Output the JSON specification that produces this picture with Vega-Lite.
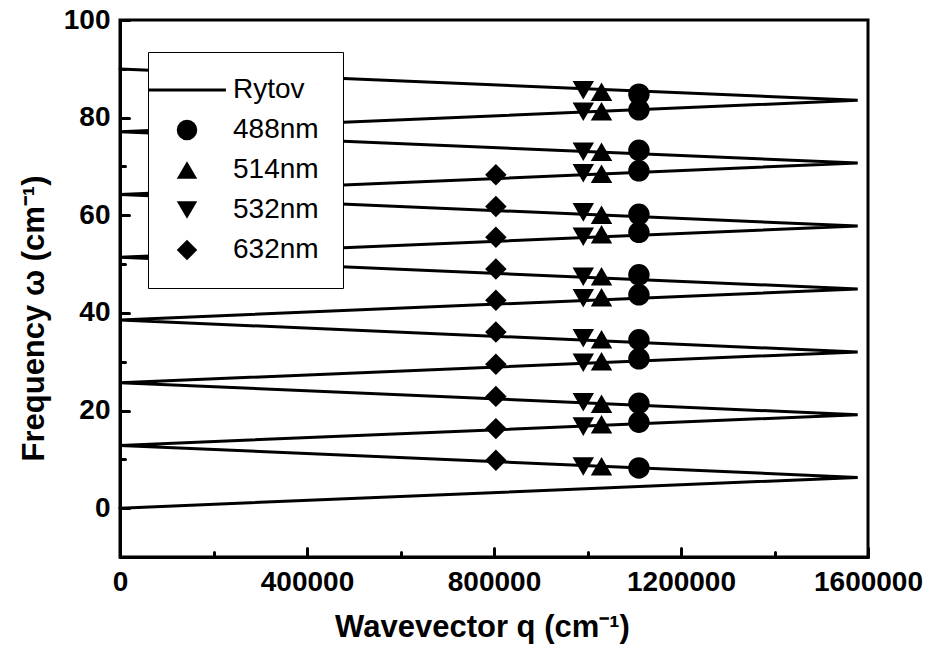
{
  "$schema": "https://vega.github.io/schema/vega-lite/v6.json",
  "width": 748,
  "height": 537,
  "autosize": "none",
  "padding": {"left": 120, "top": 20, "right": 61, "bottom": 95},
  "background": "white",
  "config": {
    "view": {"stroke": "black", "strokeWidth": 3},
    "font": "Liberation Sans",
    "axis": {"grid": false, "domainColor": "black", "domainWidth": 3, "tickColor": "black", "tickWidth": 3, "tickCap": "round",
      "labelFont": "Liberation Sans", "labelFontWeight": "bold", "labelFontSize": 28, "labelColor": "black",
      "titleFont": "Liberation Sans", "titleFontWeight": "bold", "titleFontSize": 31, "titleColor": "black",
      "labelOverlap": false, "labelBound": false, "labelFlush": false}
  },
  "layer": [
    {
      "data": {"values": [
        {"q": 0, "w": 0, "i": 0, "series": "Rytov"},
        {"q": 1578000, "w": 6.3, "i": 1, "series": "Rytov"},
        {"q": 0, "w": 12.85, "i": 2, "series": "Rytov"},
        {"q": 1578000, "w": 19.15, "i": 3, "series": "Rytov"},
        {"q": 0, "w": 25.7, "i": 4, "series": "Rytov"},
        {"q": 1578000, "w": 32.0, "i": 5, "series": "Rytov"},
        {"q": 0, "w": 38.55, "i": 6, "series": "Rytov"},
        {"q": 1578000, "w": 44.9, "i": 7, "series": "Rytov"},
        {"q": 0, "w": 51.4, "i": 8, "series": "Rytov"},
        {"q": 1578000, "w": 57.8, "i": 9, "series": "Rytov"},
        {"q": 0, "w": 64.25, "i": 10, "series": "Rytov"},
        {"q": 1578000, "w": 70.7, "i": 11, "series": "Rytov"},
        {"q": 0, "w": 77.1, "i": 12, "series": "Rytov"},
        {"q": 1578000, "w": 83.55, "i": 13, "series": "Rytov"},
        {"q": 0, "w": 89.95, "i": 14, "series": "Rytov"}
      ]},
      "mark": {"type": "line", "color": "black", "strokeWidth": 3, "strokeCap": "round"},
      "encoding": {
        "x": {"field": "q", "type": "quantitative", "scale": {"domain": [0, 1600000], "nice": false, "zero": false},
          "axis": {"title": "Wavevector q (cm⁻¹)", "values": [0, 200000, 400000, 600000, 800000, 1000000, 1200000, 1400000, 1600000],
            "labelExpr": "datum.value % 400000 === 0 ? format(datum.value, 'd') : ''",
            "tickSize": {"condition": {"test": "datum.value % 400000 === 0", "value": -9}, "value": -5},
            "labelPadding": 20, "titlePadding": 12, "titleX": 362}},
        "y": {"field": "w", "type": "quantitative", "scale": {"domain": [-10, 100], "nice": false, "zero": false},
          "axis": {"title": "Frequency ω (cm⁻¹)", "values": [-10, 0, 10, 20, 30, 40, 50, 60, 70, 80, 90, 100],
            "labelExpr": "datum.value >= 0 && datum.value % 20 === 0 ? format(datum.value, 'd') : ''",
            "tickSize": {"condition": {"test": "datum.value % 20 === 0", "value": -9}, "value": -5},
            "labelPadding": 19, "titlePadding": 13, "titleY": 298}},
        "order": {"field": "i", "type": "quantitative"}
      }
    },
    {
      "data": {"values": [
        {"q": 1110000, "w": 8.25, "series": "488nm"},
        {"q": 1110000, "w": 17.6, "series": "488nm"},
        {"q": 1110000, "w": 21.5, "series": "488nm"},
        {"q": 1110000, "w": 30.6, "series": "488nm"},
        {"q": 1110000, "w": 34.5, "series": "488nm"},
        {"q": 1110000, "w": 43.7, "series": "488nm"},
        {"q": 1110000, "w": 47.8, "series": "488nm"},
        {"q": 1110000, "w": 56.5, "series": "488nm"},
        {"q": 1110000, "w": 60.2, "series": "488nm"},
        {"q": 1110000, "w": 69.1, "series": "488nm"},
        {"q": 1110000, "w": 73.3, "series": "488nm"},
        {"q": 1110000, "w": 81.6, "series": "488nm"},
        {"q": 1110000, "w": 84.8, "series": "488nm"},
        {"q": 1030000, "w": 8.6, "series": "514nm"},
        {"q": 1030000, "w": 17.2, "series": "514nm"},
        {"q": 1030000, "w": 21.4, "series": "514nm"},
        {"q": 1030000, "w": 30.1, "series": "514nm"},
        {"q": 1030000, "w": 34.6, "series": "514nm"},
        {"q": 1030000, "w": 43.2, "series": "514nm"},
        {"q": 1030000, "w": 47.5, "series": "514nm"},
        {"q": 1030000, "w": 56.1, "series": "514nm"},
        {"q": 1030000, "w": 60.1, "series": "514nm"},
        {"q": 1030000, "w": 68.5, "series": "514nm"},
        {"q": 1030000, "w": 73.0, "series": "514nm"},
        {"q": 1030000, "w": 81.3, "series": "514nm"},
        {"q": 1030000, "w": 85.3, "series": "514nm"},
        {"q": 991000, "w": 8.55, "series": "532nm"},
        {"q": 991000, "w": 16.7, "series": "532nm"},
        {"q": 991000, "w": 21.7, "series": "532nm"},
        {"q": 991000, "w": 29.8, "series": "532nm"},
        {"q": 991000, "w": 34.8, "series": "532nm"},
        {"q": 991000, "w": 43.0, "series": "532nm"},
        {"q": 991000, "w": 47.4, "series": "532nm"},
        {"q": 991000, "w": 55.6, "series": "532nm"},
        {"q": 991000, "w": 60.6, "series": "532nm"},
        {"q": 991000, "w": 68.6, "series": "532nm"},
        {"q": 991000, "w": 73.0, "series": "532nm"},
        {"q": 991000, "w": 81.2, "series": "532nm"},
        {"q": 991000, "w": 85.6, "series": "532nm"},
        {"q": 804000, "w": 9.8, "series": "632nm"},
        {"q": 804000, "w": 16.3, "series": "632nm"},
        {"q": 804000, "w": 22.9, "series": "632nm"},
        {"q": 804000, "w": 29.5, "series": "632nm"},
        {"q": 804000, "w": 36.1, "series": "632nm"},
        {"q": 804000, "w": 42.6, "series": "632nm"},
        {"q": 804000, "w": 49.0, "series": "632nm"},
        {"q": 804000, "w": 55.5, "series": "632nm"},
        {"q": 804000, "w": 61.8, "series": "632nm"},
        {"q": 804000, "w": 68.3, "series": "632nm"}
      ]},
      "mark": {"type": "point", "filled": true, "color": "black", "opacity": 1, "size": 460},
      "encoding": {
        "x": {"field": "q", "type": "quantitative"},
        "y": {"field": "w", "type": "quantitative"},
        "shape": {"field": "series", "type": "nominal",
          "scale": {"domain": ["Rytov", "488nm", "514nm", "532nm", "632nm"],
            "range": ["M -3.8 -0.15 L 3.8 -0.15 L 3.8 0.15 L -3.8 0.15 Z", "circle", "triangle-up", "triangle-down", "diamond"]},
          "legend": {"title": null, "orient": "none", "legendX": 28, "legendY": 32, "fillColor": "white", "strokeColor": "black",
            "padding": 24, "labelFontSize": 28, "labelFont": "Liberation Sans", "labelColor": "black", "labelOffset": 32,
            "rowPadding": 12, "symbolSize": 420, "symbolStrokeWidth": 0, "symbolFillColor": "black", "symbolOffset": 1}}
      }
    }
  ]
}
